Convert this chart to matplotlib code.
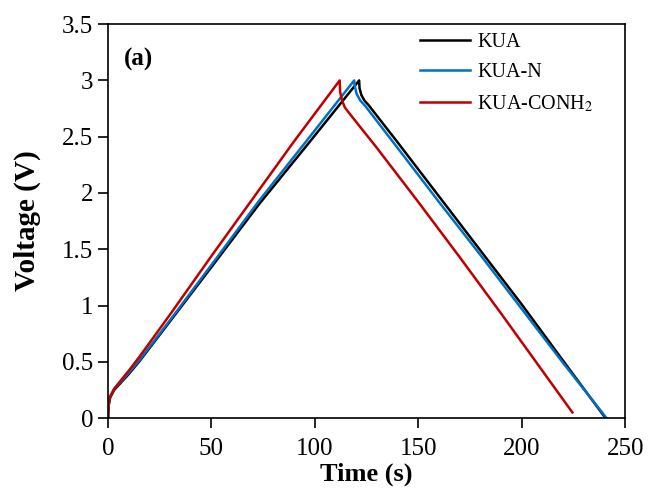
import matplotlib.pyplot as plt
from matplotlib.ticker import FuncFormatter

# galvanostatic charge/discharge, values
kua_t = [0, 0.3, 1, 3, 6, 10, 15, 30, 52, 73, 96, 121.4,
         121.6, 122.5, 124, 126, 140, 160, 180, 200, 220, 240.5]
kua_v = [0, 0.11, 0.18, 0.25, 0.31, 0.39, 0.50, 0.86, 1.39, 1.90, 2.42, 3.0,
         2.93, 2.87, 2.82, 2.78, 2.45, 1.97, 1.49, 1.01, 0.51, 0.0]

kuan_t = [0, 0.3, 1, 3, 6, 10, 15, 30, 52, 73, 95, 119,
          119.3, 120.2, 122, 124.5, 140, 160, 180, 200, 220, 241]
kuan_v = [0, 0.12, 0.19, 0.26, 0.32, 0.40, 0.51, 0.87, 1.41, 1.93, 2.44, 3.0,
          2.95, 2.88, 2.82, 2.77, 2.40, 1.92, 1.45, 0.97, 0.49, 0.0]

conh_t = [0, 0.3, 1, 3, 6, 10, 15, 30, 50, 70, 90, 112,
          112.2, 113, 114.5, 117, 130, 150, 170, 190, 210, 224.5]
conh_v = [0, 0.12, 0.19, 0.26, 0.33, 0.42, 0.54, 0.92, 1.44, 1.95, 2.46, 3.0,
          2.90, 2.83, 2.76, 2.70, 2.40, 1.92, 1.43, 0.93, 0.42, 0.05]

series = [
    ("KUA", kua_t, kua_v, "black"),
    ("KUA-N", kuan_t, kuan_v, "#0070C0"),
    ("KUA-CONH$_2$", conh_t, conh_v, "#C00000"),
]

plt.rcParams['font.family'] = ['Liberation Serif', 'DejaVu Serif']
plt.rcParams['mathtext.fontset'] = 'stix'

fig = plt.figure(figsize=(6.48, 4.93), dpi=100)
ax = fig.add_axes([0.1667, 0.152, 0.798, 0.799])

for name, t, v, col in series:
    ax.plot(t, v, color=col, linewidth=1.8, label=name)

ax.set_xlim(0, 250)
ax.set_ylim(0, 3.5)
ax.set_xticks([0, 50, 100, 150, 200, 250])
ax.set_yticks([0, 0.5, 1, 1.5, 2, 2.5, 3, 3.5])
ax.yaxis.set_major_formatter(FuncFormatter(lambda y, p: f"{y:g}"))
ax.tick_params(direction='out', length=7, width=1.2, labelsize=18,
               top=False, right=False)
ax.tick_params(axis='x', pad=7)
for sp in ax.spines.values():
    sp.set_linewidth(1.2)

ax.set_xlabel('Time (s)', fontsize=19, fontweight='bold', labelpad=2)
ax.set_ylabel('Voltage (V)', fontsize=21, fontweight='bold')
ax.yaxis.set_label_coords(-0.13, 0.5)

ax.text(0.03, 0.94, '(a)', transform=ax.transAxes, fontsize=18,
        fontweight='bold', va='top', ha='left')

ax.legend(loc='upper left', bbox_to_anchor=(0.585, 1.0), frameon=False,
          fontsize=14.5, handlelength=2.5, handletextpad=0.35, labelspacing=0.55,
          borderaxespad=0.05)

fig.savefig('out.png', dpi=100)
